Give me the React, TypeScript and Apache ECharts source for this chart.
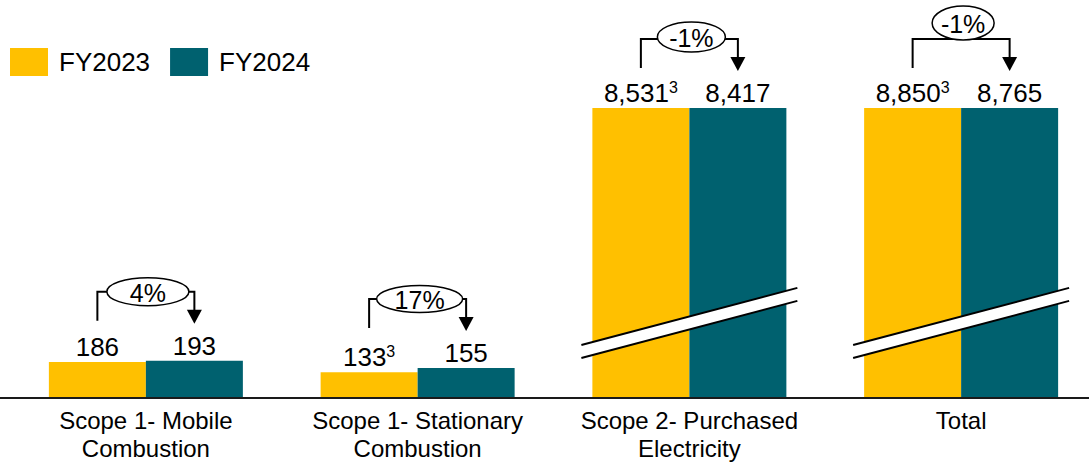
import React, { useEffect, useRef } from "react";
import * as echarts from "echarts";

const categories = [
  "Scope 1- Mobile\nCombustion",
  "Scope 1- Stationary\nCombustion",
  "Scope 2- Purchased\nElectricity",
  "Total",
];
const seriesNames = ["FY2023", "FY2024"];
const fy2023 = [186, 133, 8531, 8850];
const fy2024 = [193, 155, 8417, 8765];
// footnote marker "3" shown next to these FY2023 values
const fy2023Footnote = [false, true, true, true];
// axis is broken: values above AXIS_CAP are drawn up to the cap
const AXIS_CAP = 1500;
const BREAK_AT = 388;

const YELLOW = "#FFC000";
const TEAL = "#00616F";
const FONT = "Liberation Sans, Arial, sans-serif";
const BAR_W = 97;
const BUBBLE_RX = [41, 43, 34, 31];
const BUBBLE_RY = [14, 13.5, 15, 17];
const BUBBLE_LIFT = [0, 0, 2, 16];

const fmt = (v: number) => v.toLocaleString("en-US");

export default function App() {
  const ref = useRef<HTMLDivElement>(null);
  useEffect(() => {
    if (!ref.current) return;
    const chart = echarts.init(ref.current, null, { renderer: "svg" });
    const mk = (vals: number[], foot: boolean[] | null, color: string, name: string) => ({
      name,
      type: "bar",
      barWidth: BAR_W,
      barGap: "0%",
      itemStyle: { color },
      data: vals.map((v, i) => ({
        value: Math.min(v, AXIS_CAP),
        label: {
          formatter: foot && foot[i] ? `{a|${fmt(v)}}{s|3}` : `{a|${fmt(v)}}`,
        },
      })),
      label: {
        show: true,
        position: "top",
        distance: 1,
        rich: {
          a: { fontSize: 26, fontFamily: FONT, color: "#000", lineHeight: 28 },
          s: { fontSize: 16, fontFamily: FONT, color: "#000", verticalAlign: "top", lineHeight: 28 },
        },
      },
    });
    chart.setOption({
      animation: false,
      grid: { left: 10, top: 108, width: 1087, bottom: 67 },
      legend: {
        left: 10,
        top: 48,
        padding: 0,
        itemWidth: 38,
        itemHeight: 28,
        itemGap: 20,
        icon: "rect",
        data: seriesNames,
        textStyle: { fontSize: 26, fontFamily: FONT, color: "#000", padding: [0, 0, 0, 6] },
      },
      xAxis: {
        type: "category",
        data: categories,
        axisLine: { show: false },
        axisTick: { show: false },
        axisLabel: { interval: 0, fontSize: 24, fontFamily: FONT, color: "#000", lineHeight: 28, margin: 8 },
      },
      yAxis: { type: "value", min: 0, max: AXIS_CAP, show: false, splitLine: { show: false } },
      series: [mk(fy2023, fy2023Footnote, YELLOW, seriesNames[0]), mk(fy2024, null, TEAL, seriesNames[1])],
    });

    const px = (i: number, v: number) => chart.convertToPixel({ xAxisIndex: 0, yAxisIndex: 0 }, [i, v]) as number[];
    const graphics: any[] = [];
    const base = px(0, 0)[1];
    graphics.push({
      type: "line",
      shape: { x1: 0, y1: base, x2: 1089, y2: base },
      style: { stroke: "#1a1a1a", lineWidth: 2 },
      z: 10,
    });
    categories.forEach((_, i) => {
      const a = fy2023[i];
      const b = fy2024[i];
      const cx = px(i, 0)[0];
      const xL = cx - BAR_W / 2;
      const xR = cx + BAR_W / 2;
      const topY = Math.min(px(i, Math.min(a, AXIS_CAP))[1], px(i, Math.min(b, AXIS_CAP))[1]);
      const yBottom = topY - 40;
      const yLine = yBottom - 29;
      const tip = yBottom + 3;
      graphics.push({
        type: "polyline",
        shape: { points: [[xL, yBottom], [xL, yLine], [xR, yLine], [xR, tip - 13]] },
        style: { stroke: "#000", lineWidth: 2, fill: null },
        z: 20,
      });
      graphics.push({
        type: "polygon",
        shape: { points: [[xR - 7.5, tip - 14], [xR + 7.5, tip - 14], [xR, tip]] },
        style: { fill: "#000" },
        z: 20,
      });
      const pct = Math.round(((b - a) / a) * 100);
      const txt = `${pct}%`;
      const ey = yLine - BUBBLE_LIFT[i];
      const ex = (xL + xR) / 2 + 2;
      graphics.push({
        type: "ellipse",
        shape: { cx: ex, cy: ey, rx: BUBBLE_RX[i], ry: BUBBLE_RY[i] },
        style: { fill: "#fff", stroke: "#000", lineWidth: 1.5 },
        z: 21,
      });
      graphics.push({
        type: "text",
        x: ex,
        y: ey + 1,
        style: { text: txt, fontSize: 25, fontFamily: FONT, fill: "#000", align: "center", verticalAlign: "middle" },
        z: 22,
      });
      if (a > AXIS_CAP || b > AXIS_CAP) {
        const yc = px(i, BREAK_AT)[1];
        const half = 108;
        const dy = 28.6;
        const t = 6.5;
        graphics.push({
          type: "polygon",
          shape: {
            points: [
              [cx - half, yc + dy - t],
              [cx + half, yc - dy - t],
              [cx + half, yc - dy + t],
              [cx - half, yc + dy + t],
            ],
          },
          style: { fill: "#fff" },
          z: 15,
        });
        [-t, t].forEach((o) => {
          graphics.push({
            type: "line",
            shape: { x1: cx - half, y1: yc + dy + o, x2: cx + half, y2: yc - dy + o },
            style: { stroke: "#000", lineWidth: 2 },
            z: 16,
          });
        });
      }
    });
    chart.setOption({ graphic: graphics });
    return () => chart.dispose();
  }, []);
  return (
    <div style={{ position: "absolute", left: 0, top: 0, width: 1089, height: 465, overflow: "hidden" }}>
      <div ref={ref} style={{ width: 1100, height: 465 }} />
    </div>
  );
}
